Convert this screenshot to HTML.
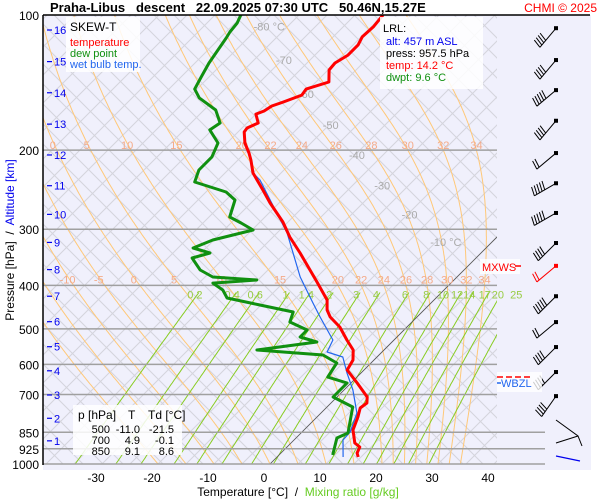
<!DOCTYPE html>
<html><head><meta charset="utf-8"><style>
html,body{margin:0;padding:0;background:#fff;}
svg{display:block;font-family:"Liberation Sans",sans-serif;}
.pre{white-space:pre;}
</style></head><body>
<svg id="chart" width="600" height="500" viewBox="0 0 600 500" xmlns="http://www.w3.org/2000/svg">
<defs><clipPath id="plotClip"><rect x="43" y="15" width="454" height="449"/></clipPath></defs>
<rect x="43" y="15" width="548" height="455" fill="#f0f0fc"/>
<g id="grid" clip-path="url(#plotClip)"></g>
<g id="plines"></g>
<g id="glabels"></g>
<g id="series" clip-path="url(#plotClip)"></g>
<line x1="43" y1="15" x2="590" y2="15" stroke="#000" stroke-width="1.5"/>
<line x1="43" y1="15" x2="43" y2="465" stroke="#000" stroke-width="1.5"/>
<g id="axes"></g>
<g id="barbs"></g>
<text class="pre" x="50" y="12" font-size="13" font-weight="bold" fill="#000">Praha-Libus   descent   22.09.2025 07:30 UTC   50.46N,15.27E</text>
<text x="597" y="12" font-size="12" fill="#ff0000" text-anchor="end">CHMI © 2025</text>
<g>
<rect x="66" y="17" width="74" height="55" fill="#fff" opacity="0.85"/>
<text x="70" y="31" font-size="12" fill="#000">SKEW-T</text>
<text x="70" y="46" font-size="11" fill="#ff0000">temperature</text>
<text x="70" y="57" font-size="11" fill="#109010">dew point</text>
<text x="70" y="68" font-size="11" fill="#2266ee">wet bulb temp.</text>
</g>
<g>
<rect x="380" y="17" width="103" height="72" fill="#fff" opacity="0.85"/>
<text x="383" y="32" font-size="11" fill="#000">LRL:</text>
<text x="386" y="45" font-size="11" fill="#0000ee">alt: 457 m ASL</text>
<text x="386" y="57" font-size="11" fill="#000">press: 957.5 hPa</text>
<text x="386" y="69" font-size="11" fill="#ff0000">temp: 14.2 °C</text>
<text x="386" y="81" font-size="11" fill="#109010">dwpt: 9.6 °C</text>
</g>
<g>
<rect x="73" y="405" width="109" height="50" fill="#fff" opacity="0.85"/>
<text x="78" y="419" font-size="12">p [hPa]</text><text x="128" y="419" font-size="12">T</text><text x="148" y="419" font-size="12">Td [°C]</text>
<text x="110" y="433" font-size="11" text-anchor="end">500</text><text x="140" y="433" font-size="11" text-anchor="end">-11.0</text><text x="174" y="433" font-size="11" text-anchor="end">-21.5</text>
<text x="110" y="444" font-size="11" text-anchor="end">700</text><text x="140" y="444" font-size="11" text-anchor="end">4.9</text><text x="174" y="444" font-size="11" text-anchor="end">-0.1</text>
<text x="110" y="455" font-size="11" text-anchor="end">850</text><text x="140" y="455" font-size="11" text-anchor="end">9.1</text><text x="174" y="455" font-size="11" text-anchor="end">8.6</text>
</g>
<g>
<rect x="480" y="259" width="40" height="15" fill="#fff" opacity="0.8"/>
<text x="482" y="271" font-size="11" fill="#ff0000">MXWS</text>
<line x1="515" y1="266" x2="521" y2="266" stroke="#ff0000" stroke-width="1.5"/>
<rect x="497" y="372" width="45" height="20" fill="#fff" opacity="0.8"/>
<line x1="497" y1="377" x2="530" y2="377" stroke="#ff0000" stroke-width="1.5" stroke-dasharray="6,3"/>
<line x1="497" y1="383" x2="501" y2="383" stroke="#2266ee" stroke-width="1.5"/>
<text x="501" y="387" font-size="11" fill="#2266ee">WBZL</text>
</g>
<text class="pre" transform="translate(14,240) rotate(-90)" font-size="12" text-anchor="middle"><tspan fill="#000">Pressure [hPa]  /  </tspan><tspan fill="#0000ee">Altitude [km]</tspan></text>
<text class="pre" x="298" y="496" font-size="12" text-anchor="middle"><tspan fill="#000">Temperature [°C]  /  </tspan><tspan fill="#66cc22">Mixing ratio [g/kg]</tspan></text>
</svg>
<script>
// ---- data ----
const tempP = [100,106.3,111.9,116.6,122.8,127.9,132.6,141.0,146.2,150.8,156.3,159.5,163.6,166.2,174.0,178.5,182.2,192.8,202.9,210.3,224.8,245.3,262.2,289.1,312.2,338.9,369.8,393.3,431.2,453.9,470.5,495.3,529.5,557.3,586.6,617.4,660.0,709.3,731.3,750.4,785.8,840.1,897.9,916.6,945.2,964.7];
const tempT = [-60.0,-59.6,-59.8,-59.1,-59.1,-60.0,-59.8,-57.7,-60.5,-60.2,-62.3,-63.6,-64.1,-65.0,-63.0,-64.1,-63.9,-61.8,-59.3,-57.7,-55.0,-50.2,-46.6,-40.9,-37.0,-32.3,-27.5,-24.1,-19.1,-17.3,-15.5,-12.0,-8.4,-5.5,-3.75,-3.0,1.1,5.4,6.4,6.1,7.3,8.75,11.4,13.0,13.6,14.5];
const dewP = [100,104.2,109.1,112.5,127.9,137.4,146.2,153.0,162.8,174.0,180.3,192.8,207.2,221.4,235.5,247.9,258.2,281.8,290.5,301.2,317.1,330.3,338.9,347.7,369.8,383.3,389.3,395.4,409.8,426.8,442.4,458.6,482.8,503.0,521.3,535.0,557.3,571.7,595.8,640.3,660.0,709.3,746.6,853.1,875.2,955.0];
const dewT = [-85.4,-84.6,-84.3,-83.9,-82.5,-81.4,-80.4,-78.0,-72.9,-69.8,-70.4,-66.6,-65.2,-65.2,-63.8,-56.4,-53.4,-51.3,-48.2,-44.8,-50.2,-52.3,-48.4,-50.7,-47.1,-43.6,-35.2,-42.5,-39.5,-37.3,-30.2,-23.0,-21.8,-17.3,-17.3,-13.4,-22.7,-10.0,-6.1,-5.2,-0.7,-0.7,4.6,8.4,7.3,9.6];
const wbP = [224.8,233.1,276.1,305.9,383.3,437.8,470.5,529.5,563.1,577.8,627.0,684.3,769.8,848.6,884.3,964.7];
const wbT = [-55.0,-52.5,-43.6,-38.2,-28.0,-21.1,-17.3,-10.9,-9.8,-6.1,-2.5,1.6,6.4,8.6,8.75,11.8];
const pressureTicks = [100,200,300,400,500,600,700,850,925,1000];
const tempTicks = [-30,-20,-10,0,10,20,30,40];
const altKm = [1,2,3,4,5,6,7,8,9,10,11,12,13,14,15,16];
const altP = [888,791,702,620,548,482,423,369,321,278,240,205,175,149,127,108];
const mixRatios = [0.2,0.4,0.6,1,1.4,2,3,4,6,8,10,12,14,17,20,25];
const moistThetaW = [-20,-15,-10,-5,0,5,10,15,20,22,24,26,28,30,32,34];
const moistLabels400 = [-10,-5,0,5,10,15,20,22,24,26,28,30,32,34];
const moistLabels200 = [0,5,10,15,20,22,24,26,28,30,32,34];
const isoLabelT = [-80,-70,-60,-50,-40,-30,-20,-10];
const isoLabelP = [106,126,150,176,205,240,278,320];
const barbP = [107,126,147,172,203,237,276,322,362,423,483,549,624,706];
const barbDir = [220,220,230,220,230,240,240,225,230,225,230,225,225,215];
const barbSpd = [40,40,45,40,15,45,45,40,15,45,15,40,40,35];

// ---- scales ----
const NS='http://www.w3.org/2000/svg';
function yP(p){return 464-449*Math.log10(1000/p);}
function xT(t,p){return 270+5.6*t+(464-yP(p));}
function mk(tag,attrs,parent){const e=document.createElementNS(NS,tag);for(const k in attrs)e.setAttribute(k,attrs[k]);parent.appendChild(e);return e;}
function pathFrom(pts){return pts.map((q,i)=>(i?'L':'M')+q[0].toFixed(1)+','+q[1].toFixed(1)).join('');}
const grid=document.getElementById('grid'),gl=document.getElementById('glabels'),pl=document.getElementById('plines'),ax=document.getElementById('axes'),ser=document.getElementById('series'),bb=document.getElementById('barbs');

// isotherms
for(let t=-160;t<=45;t+=5){
  const e=mk('line',{x1:xT(t,1050),y1:yP(1050),x2:xT(t,95),y2:yP(95),stroke:'#d4d4dc','stroke-width':1},grid);
  
  
}
// dry adiabats (drawn as straight falling diagonals)
for(let c=43;c<=497+460;c+=20){
  const e=mk('line',{x1:c,y1:464,x2:c-460,y2:4,stroke:'#d4d4dc','stroke-width':1},grid);
  
  
}
// moist adiabats
function es(tc){return 6.112*Math.exp(17.67*tc/(tc+243.5));}
const moistCurves={};
moistThetaW.forEach(tw=>{
  let T=tw+273.15;const up=[];
  for(let p=1000;p>=95;p-=2){
    up.push([p,T]);
    const e=es(T-273.15),rs=0.622*e/(p-e);
    const dTdp=(287*T+2.5e6*rs)/(p*(1005+2.5e6*2.5e6*rs*0.622/(287*T*T)));
    T-=dTdp*2;
  }
  moistCurves[tw]=up;
  const e=mk('path',{d:pathFrom(up.map(q=>[xT(q[1]-273.15,q[0]),yP(q[0])])),fill:'none',stroke:'#ffc878','stroke-width':1},grid);
  
  
});
function moistAt(tw,p){const c=moistCurves[tw];let b=c[0];c.forEach(q=>{if(Math.abs(q[0]-p)<Math.abs(b[0]-p))b=q;});return b[1]-273.15;}
// mixing ratio lines
function tdFromW(w,p){const e=w*p/(622+w);const l=Math.log(e/6.112);return 243.5*l/(17.67-l);}
mixRatios.forEach(w=>{
  const pts=[];for(let p=1000;p>=415;p-=5)pts.push([xT(tdFromW(w,p),p),yP(p)]);
  const e=mk('path',{d:pathFrom(pts),fill:'none',stroke:'#88cc22','stroke-width':1},grid);
  
  
  const t=mk('text',{x:xT(tdFromW(w,415),415)-4,y:yP(415)+6,'font-size':11,fill:'#99cc44','text-anchor':'middle'},gl);
  t.textContent=String(w);
  
  
});
// 0 °C isotherm
{const e=mk('line',{x1:xT(0,1000),y1:yP(1000),x2:xT(0,270),y2:yP(270),stroke:'#555','stroke-width':0.8},grid);
 
 }
// moist labels
moistLabels400.forEach(tw=>{const x=xT(moistAt(tw,400),400)+(tw<15?-6:0);if(x<43||x>497)return;
  const t=mk('text',{x:x,y:yP(400)-2,'font-size':11,fill:'#f4aa88','text-anchor':'middle'},gl);t.textContent=String(tw);
  
  });
moistLabels200.forEach(tw=>{const x=xT(moistAt(tw,200),200)+(tw<20?-4:0);if(x<43||x>497)return;
  const t=mk('text',{x:x,y:yP(200)-1,'font-size':11,fill:'#f4aa88','text-anchor':'middle'},gl);t.textContent=String(tw);
  
  });
isoLabelT.forEach((t0,i)=>{const p=isoLabelP[i];
  const t=mk('text',{x:xT(t0,p)-6,y:yP(p)+4,'font-size':11,fill:'#aaaaaa'},gl);t.textContent=t0+(i===0||i===isoLabelT.length-1?' °C':'');
  
  });
// pressure lines & ticks
pressureTicks.forEach(p=>{const y=yP(p);
  if(p!==100){const e=mk('line',{x1:43,y1:y,x2:p>=850?545:497,y2:y,stroke:'#a0a0a0','stroke-width':1.5},pl);
    
    }
  const t=mk('text',{x:39,y:y+5,'font-size':12,'text-anchor':'end',fill:'#000'},ax);t.textContent=String(p);
  
  });
tempTicks.forEach(v=>{const t=mk('text',{x:xT(v,1000)-6,y:482,'font-size':12,'text-anchor':'middle',fill:'#000'},ax);t.textContent=String(v);
  
  });
altKm.forEach((k,i)=>{const y=yP(altP[i]);
  const l=mk('line',{x1:47,y1:y,x2:52,y2:y,stroke:'#0000ee','stroke-width':1.2},ax);
  
  
  const t=mk('text',{x:54,y:y+4,'font-size':11,fill:'#0000ee'},ax);t.textContent=String(k);
  
  });
// series
function series(P,T,color,w,name){const pts=P.map((p,i)=>[xT(T[i],p),yP(p)]);
  const e=mk('path',{d:pathFrom(pts),fill:'none',stroke:color,'stroke-width':w,'stroke-linejoin':'round'},ser);
  
  }
series(wbP,wbT,'#2266ee',1.2,'wet-bulb-line');
series(dewP,dewT,'#109010',3,'dew-point-line');
series(tempP,tempT,'#ff0000',3,'temperature-line');
// wind barbs
barbP.forEach((p,i)=>{const y=yP(p);const cx=556;
  const dx=Math.sin(barbDir[i]*Math.PI/180), dy=-Math.cos(barbDir[i]*Math.PI/180);
  const L=25, ex=cx+dx*L, ey=y+dy*L;
  const col=i===8?'#ff0000':'#000';
  const s=mk('line',{x1:cx,y1:y,x2:ex,y2:ey,stroke:col,'stroke-width':1},bb);
  
  
  const d=mk('rect',{x:cx-2,y:y-2,width:4,height:4,fill:col},bb);
  
  
  const n=Math.round(barbSpd[i]/10);
  const px=-dy, py=dx; // perpendicular (up-left)
  for(let k=0;k<n;k++){const bx=ex-dx*k*3,by=ey-dy*k*3;
    const f=mk('line',{x1:bx,y1:by,x2:bx+px*9-dx*2,y2:by+py*9-dy*2,stroke:col,'stroke-width':1},bb);
    
    }
});
{const e=mk('path',{d:'M556,420 L578,436 L582,446 M556,443 L578,436',fill:'none',stroke:'#000','stroke-width':1},bb);
 
 
 const b=mk('path',{d:'M556,456 L580,461',fill:'none',stroke:'#0000ee','stroke-width':1.2},bb);
 
 }
</script>
</body></html>
